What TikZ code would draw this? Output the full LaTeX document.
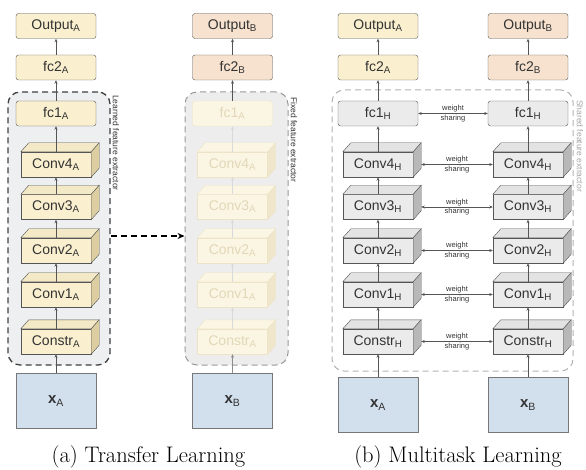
\documentclass[tikz,border=0pt]{standalone}
\usepackage{fontspec}
\setsansfont{Liberation Sans}
\usetikzlibrary{arrows.meta}

\definecolor{yel}{HTML}{FAF0CF}
\definecolor{yeltop}{HTML}{F4E9C6}
\definecolor{yelside}{HTML}{DDCEA2}
\definecolor{peach}{HTML}{F6E2CE}
\definecolor{hgray}{HTML}{EBEBEB}
\definecolor{htop}{HTML}{E3E3E3}
\definecolor{hside}{HTML}{B8B8B8}
\definecolor{xblue}{HTML}{D2DFEC}
\definecolor{boxline}{HTML}{555555}
\definecolor{txt}{HTML}{333333}
\definecolor{fadefill}{HTML}{FBF5E3}
\definecolor{fadeline}{HTML}{EDE4C8}
\definecolor{fadetext}{HTML}{E2D7B8}
\definecolor{fadeside}{HTML}{EFE6CB}
\definecolor{bgA}{HTML}{EEEFF0}
\definecolor{bgB}{HTML}{EDEDED}

\begin{document}
\begin{tikzpicture}[x=1pt, y=-1pt]
    % ==========================
    % 設定
    % ==========================
    \def\yOut{26}     % Output
    \def\yFcB{67.5}   % fc2
    \def\yFcA{113.5}  % fc1
    \def\yCd{164.5}   % Conv4
    \def\yCc{207}     % Conv3
    \def\yCb{250.5}   % Conv2
    \def\yCa{294.5}   % Conv1
    \def\yCs{341.5}   % Constr
    \tikzset{
        box/.style={draw=boxline, rounded corners=2.5pt, minimum width=80pt, minimum height=25pt,
            inner sep=0pt, text=txt, font=\sffamily\fontsize{14}{16}\selectfont},
        cube/.style={draw=boxline, minimum width=70pt, minimum height=25pt,
            inner sep=0pt, text=txt, font=\sffamily\fontsize{14}{16}\selectfont},
        inbox/.style={draw=boxline!80, fill=xblue, minimum width=80pt, minimum height=55pt,
            inner sep=0pt, text=txt, font=\sffamily\fontsize{15}{17}\selectfont},
        faded/.style={draw=fadeline, fill=fadefill, text=fadetext},
        Atop/.style={draw=boxline, fill=yeltop},   Aside/.style={draw=boxline, fill=yelside},
        Ftop/.style={draw=fadeline, fill=fadefill}, Fside/.style={draw=fadeline, fill=fadeside},
        Htop/.style={draw=boxline, fill=htop},     Hside/.style={draw=boxline, fill=hside},
        arr/.style={draw=boxline, line width=0.7pt, -{Stealth[length=3.5pt, width=3pt]}},
        fadearr/.style={arr, draw=black!15},
        share/.style={draw=boxline, line width=0.7pt,
            {Stealth[length=3.5pt, width=3pt]}-{Stealth[length=3.5pt, width=3pt]}},
        wlabel/.style={inner sep=1pt, text=txt, font=\sffamily\fontsize{7.5}{8}\selectfont},
        vlabel/.style={rotate=-90, anchor=west, inner sep=0pt, font=\sffamily\fontsize{8.5}{9}\selectfont},
        longdash/.style={dash pattern=on 6pt off 4pt},
        caption/.style={font=\rmfamily\fontsize{22.5}{26}\selectfont}
    }
    % 上面と側面
    \def\faces#1#2{%
        \draw[#2top] (#1.north west) -- ++(8,-9) -- ([shift={(8,-9)}]#1.north east) -- (#1.north east) -- cycle;
        \draw[#2side] (#1.north east) -- ++(8,-9) -- ([shift={(8,-9)}]#1.south east) -- (#1.south east) -- cycle;
    }

    \useasboundingbox (0,0) rectangle (586,470);

    % ==========================
    % 枠 (feature extractor)
    % ==========================
    \node[draw=black!75, longdash, line width=1.3pt, fill=bgA, rounded corners=12pt,
        minimum width=102pt, minimum height=273pt] (extA) at (59,228.5) {};
    \node[draw=black!40, longdash, line width=1pt, fill=bgB, rounded corners=12pt,
        minimum width=103pt, minimum height=273pt] (extB) at (236.5,228.5) {};
    \node[draw=black!30, longdash, line width=1pt, rounded corners=12pt,
        minimum width=241pt, minimum height=281pt] (extH) at (452.5,230.5) {};

    \node[vlabel, text=txt] (lblA) at (116,95) {Learned feature extractor};
    \node[vlabel, text=txt] (lblB) at (294,97) {Fixed feature extractor};
    \node[vlabel, text=black!35] (lblH) at (580,100) {Shared feature extractor};

    \draw[longdash, line width=1.3pt, -{Stealth[length=7pt, width=6pt]}]
        ([yshift=-7.5pt]extA.east) -- ([yshift=-7.5pt]extB.west);

    % ==========================
    % 1. (a) タスク A
    % ==========================
    \begin{scope}[xshift=56pt]
        \node[box, fill=yel] (TAout) at (0,\yOut) {Output\textsubscript{A}};
        \node[box, fill=yel] (TAfc2) at (0,\yFcB) {fc2\textsubscript{A}};
        \node[box, fill=yel] (TAfc1) at (0,\yFcA) {fc1\textsubscript{A}};
        \node[cube, fill=yel] (TAc4) at (0,\yCd) {Conv4\textsubscript{A}};
        \node[cube, fill=yel] (TAc3) at (0,\yCc) {Conv3\textsubscript{A}};
        \node[cube, fill=yel] (TAc2) at (0,\yCb) {Conv2\textsubscript{A}};
        \node[cube, fill=yel] (TAc1) at (0,\yCa) {Conv1\textsubscript{A}};
        \node[cube, fill=yel] (TAcs) at (0,\yCs) {Constr\textsubscript{A}};
        \node[inbox] (TAx) at (0,401) {\textbf{x}\textsubscript{A}};
    \end{scope}
    \faces{TAc4}{A} \faces{TAc3}{A} \faces{TAc2}{A} \faces{TAc1}{A} \faces{TAcs}{A}

    % ==========================
    % 2. (a) タスク B (固定)
    % ==========================
    \begin{scope}[xshift=232.5pt]
        \node[box, fill=peach] (TBout) at (0,\yOut) {Output\textsubscript{B}};
        \node[box, fill=peach] (TBfc2) at (0,\yFcB) {fc2\textsubscript{B}};
        \node[box, faded] (TBfc1) at (0,\yFcA) {fc1\textsubscript{A}};
        \node[cube, faded] (TBc4) at (0,\yCd) {Conv4\textsubscript{A}};
        \node[cube, faded] (TBc3) at (0,\yCc) {Conv3\textsubscript{A}};
        \node[cube, faded] (TBc2) at (0,\yCb) {Conv2\textsubscript{A}};
        \node[cube, faded] (TBc1) at (0,\yCa) {Conv1\textsubscript{A}};
        \node[cube, faded] (TBcs) at (0,\yCs) {Constr\textsubscript{A}};
        \node[inbox] (TBx) at (0,401) {\textbf{x}\textsubscript{B}};
    \end{scope}
    \faces{TBc4}{F} \faces{TBc3}{F} \faces{TBc2}{F} \faces{TBc1}{F} \faces{TBcs}{F}

    % ==========================
    % 3. (b) 共有ネットワーク
    % ==========================
    \begin{scope}[xshift=378pt]
        \node[box, fill=yel] (MAout) at (0,\yOut) {Output\textsubscript{A}};
        \node[box, fill=yel] (MAfc2) at (0,\yFcB) {fc2\textsubscript{A}};
        \node[box, fill=hgray] (MAfc1) at (0,\yFcA) {fc1\textsubscript{H}};
        \node[cube, fill=hgray] (MAc4) at (0,\yCd) {Conv4\textsubscript{H}};
        \node[cube, fill=hgray] (MAc3) at (0,\yCc) {Conv3\textsubscript{H}};
        \node[cube, fill=hgray] (MAc2) at (0,\yCb) {Conv2\textsubscript{H}};
        \node[cube, fill=hgray] (MAc1) at (0,\yCa) {Conv1\textsubscript{H}};
        \node[cube, fill=hgray] (MAcs) at (0,\yCs) {Constr\textsubscript{H}};
        \node[inbox] (MAx) at (0,405) {\textbf{x}\textsubscript{A}};
    \end{scope}
    \begin{scope}[xshift=528pt]
        \node[box, fill=peach] (MBout) at (0,\yOut) {Output\textsubscript{B}};
        \node[box, fill=peach] (MBfc2) at (0,\yFcB) {fc2\textsubscript{B}};
        \node[box, fill=hgray] (MBfc1) at (0,\yFcA) {fc1\textsubscript{H}};
        \node[cube, fill=hgray] (MBc4) at (0,\yCd) {Conv4\textsubscript{H}};
        \node[cube, fill=hgray] (MBc3) at (0,\yCc) {Conv3\textsubscript{H}};
        \node[cube, fill=hgray] (MBc2) at (0,\yCb) {Conv2\textsubscript{H}};
        \node[cube, fill=hgray] (MBc1) at (0,\yCa) {Conv1\textsubscript{H}};
        \node[cube, fill=hgray] (MBcs) at (0,\yCs) {Constr\textsubscript{H}};
        \node[inbox] (MBx) at (0,405) {\textbf{x}\textsubscript{B}};
    \end{scope}
    \faces{MAc4}{H} \faces{MAc3}{H} \faces{MAc2}{H} \faces{MAc1}{H} \faces{MAcs}{H}
    \faces{MBc4}{H} \faces{MBc3}{H} \faces{MBc2}{H} \faces{MBc1}{H} \faces{MBcs}{H}

    % ==========================
    % 矢印
    % ==========================
    \draw[arr] (TAx) -- (TAcs);   \draw[arr] (TAcs) -- (TAc1);  \draw[arr] (TAc1) -- (TAc2);
    \draw[arr] (TAc2) -- (TAc3);  \draw[arr] (TAc3) -- (TAc4);  \draw[arr] (TAc4) -- (TAfc1);
    \draw[arr] (TAfc1) -- (TAfc2); \draw[arr] (TAfc2) -- (TAout);

    \draw[arr, draw=black!45] (TBx) -- (TBcs);
    \draw[fadearr] (TBcs) -- (TBc1);  \draw[fadearr] (TBc1) -- (TBc2);  \draw[fadearr] (TBc2) -- (TBc3);
    \draw[fadearr] (TBc3) -- (TBc4);  \draw[fadearr] (TBc4) -- (TBfc1);
    \draw[arr] (TBfc1) -- (TBfc2); \draw[arr] (TBfc2) -- (TBout);

    \draw[arr] (MAx) -- (MAcs);   \draw[arr] (MAcs) -- (MAc1);  \draw[arr] (MAc1) -- (MAc2);
    \draw[arr] (MAc2) -- (MAc3);  \draw[arr] (MAc3) -- (MAc4);  \draw[arr] (MAc4) -- (MAfc1);
    \draw[arr] (MAfc1) -- (MAfc2); \draw[arr] (MAfc2) -- (MAout);

    \draw[arr] (MBx) -- (MBcs);   \draw[arr] (MBcs) -- (MBc1);  \draw[arr] (MBc1) -- (MBc2);
    \draw[arr] (MBc2) -- (MBc3);  \draw[arr] (MBc3) -- (MBc4);  \draw[arr] (MBc4) -- (MBfc1);
    \draw[arr] (MBfc1) -- (MBfc2); \draw[arr] (MBfc2) -- (MBout);

    % weight sharing
    \draw[share] (MAfc1) -- (MBfc1)
        node[midway, above, wlabel] {weight} node[midway, below, wlabel] {sharing};
    \draw[share] ([xshift=8pt]MAc4.east) -- (MBc4.west)
        node[midway, above, wlabel] {weight} node[midway, below, wlabel] {sharing};
    \draw[share] ([xshift=8pt]MAc3.east) -- (MBc3.west)
        node[midway, above, wlabel] {weight} node[midway, below, wlabel] {sharing};
    \draw[share] ([xshift=8pt]MAc2.east) -- (MBc2.west)
        node[midway, above, wlabel] {weight} node[midway, below, wlabel] {sharing};
    \draw[share] ([xshift=8pt]MAc1.east) -- (MBc1.west)
        node[midway, above, wlabel] {weight} node[midway, below, wlabel] {sharing};
    \draw[share] ([xshift=8pt]MAcs.east) -- (MBcs.west)
        node[midway, above, wlabel] {weight} node[midway, below, wlabel] {sharing};

    % ==========================
    % キャプション
    % ==========================
    \node[caption] (capA) at (148.5,457) {(a) Transfer Learning};
    \node[caption] (capB) at (458,457) {(b) Multitask Learning};

\end{tikzpicture}
\end{document}
